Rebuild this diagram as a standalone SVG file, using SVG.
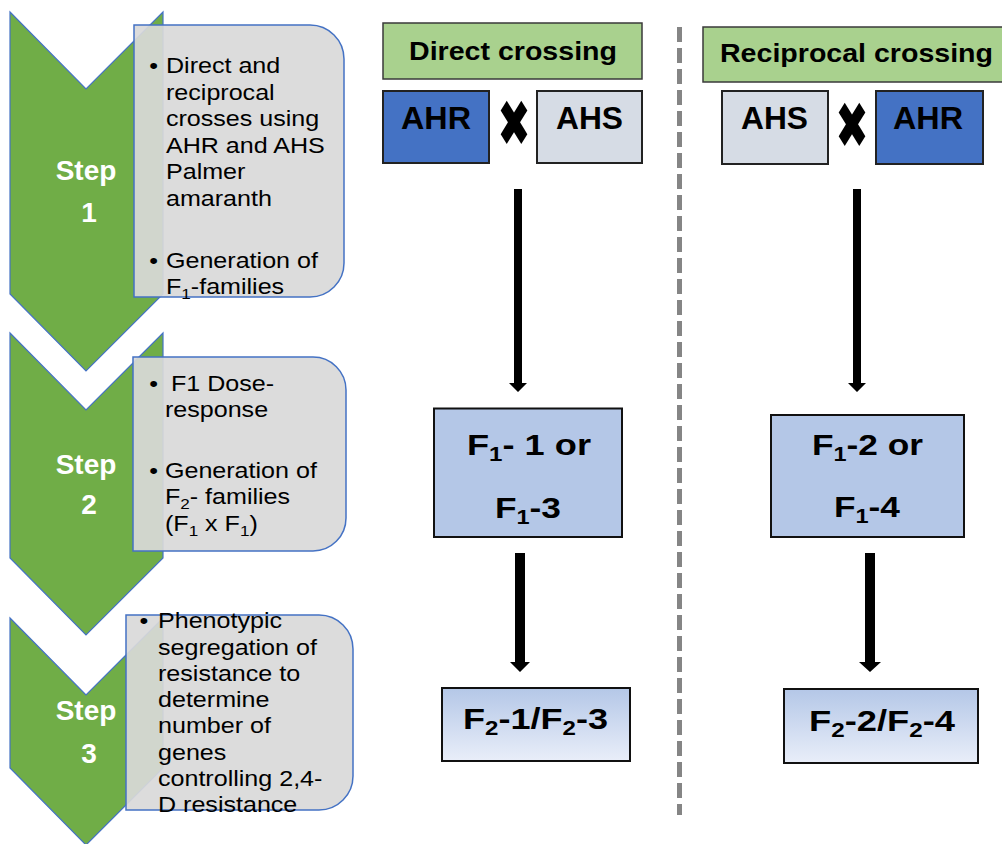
<svg xmlns="http://www.w3.org/2000/svg" width="1002" height="844" viewBox="0 0 1002 844">
<defs>
<linearGradient id="f2grad" x1="0" y1="0" x2="0" y2="1">
<stop offset="0" stop-color="#b4c7e7"/>
<stop offset="1" stop-color="#e9eef9"/>
</linearGradient>
</defs>
<style>
.chev{fill:#70ad47;stroke:#4472c4;stroke-width:1.2}
.note{fill:#d9d9d9;fill-opacity:0.92;stroke:#4472c4;stroke-width:1.5}
.step{font-family:"Liberation Sans",Arial,sans-serif;font-weight:bold;font-size:28px;fill:#ffffff;text-anchor:middle}
.body{font-family:"Liberation Sans",Arial,sans-serif;font-size:22px;fill:#000000}
.hdr{fill:#a9d18e;stroke:#3a3a3a;stroke-width:1.5}
.ahr{fill:#4472c4;stroke:#222222;stroke-width:2}
.ahs{fill:#d6dce5;stroke:#222222;stroke-width:2}
.f1{fill:#b4c7e7;stroke:#111111;stroke-width:2}
.f2{fill:url(#f2grad);stroke:#111111;stroke-width:2}
.lbl{font-family:"Liberation Sans",Arial,sans-serif;font-weight:bold;fill:#000000}
.cross{font-family:"DejaVu Sans",sans-serif;font-size:50px;fill:#000000;text-anchor:middle}
.arrow{fill:#000000}
.divider{stroke:#858585;stroke-width:5;stroke-dasharray:15 6;fill:none}
</style>

<g id="step1">
<polygon class="chev" points="10,12 86,89 163,12 163,294 86,371 10,294"/>
<text class="step" x="86" y="180">Step</text>
<text class="step" x="89" y="222">1</text>
</g>
<g id="note1">
<path class="note" d="M134,25 H310 A34,34 0 0 1 344,59 V263 A34,34 0 0 1 310,297 H134 Z"/>
<g transform="scale(1.14,1)">
<text class="body" x="131" y="73.5">•</text>
<text class="body" x="145.6" y="73.5">Direct and</text>
<text class="body" x="145.6" y="100">reciprocal</text>
<text class="body" x="145.6" y="126.5">crosses using</text>
<text class="body" x="145.6" y="153">AHR and AHS</text>
<text class="body" x="145.6" y="179.5">Palmer</text>
<text class="body" x="145.6" y="206">amaranth</text>
<text class="body" x="131" y="268">•</text>
<text class="body" x="145.6" y="268">Generation of</text>
<text class="body" x="145.6" y="294">F<tspan font-size="15" dy="5">1</tspan><tspan dy="-5">-families</tspan></text>
</g>
</g>

<g id="step2">
<polygon class="chev" points="10,333 86,410 163,333 163,558 86,635 10,558"/>
<text class="step" x="86" y="474">Step</text>
<text class="step" x="89" y="514">2</text>
</g>
<g id="note2">
<path class="note" d="M133,357 H313 A33,33 0 0 1 346,390 V518 A33,33 0 0 1 313,551 H133 Z"/>
<g transform="scale(1.14,1)">
<text class="body" x="131" y="391.5">•</text>
<text class="body" x="150" y="391.5">F1 Dose-</text>
<text class="body" x="144.7" y="417.5">response</text>
<text class="body" x="131" y="478">•</text>
<text class="body" x="144.7" y="478">Generation of</text>
<text class="body" x="144.7" y="504.5">F<tspan font-size="15" dy="5">2</tspan><tspan dy="-5">- families</tspan></text>
<text class="body" x="144.7" y="531">(F<tspan font-size="15" dy="5">1</tspan><tspan dy="-5"> x F</tspan><tspan font-size="15" dy="5">1</tspan><tspan dy="-5">)</tspan></text>
</g>
</g>

<g id="step3">
<polygon class="chev" points="10,618 86,695 163,618 163,768 86,845 10,768"/>
<text class="step" x="86" y="720">Step</text>
<text class="step" x="89" y="763">3</text>
</g>
<g id="note3">
<path class="note" d="M126,615 H319 A34,34 0 0 1 353,649 V776 A34,34 0 0 1 319,810 H126 Z"/>
<g transform="scale(1.14,1)">
<text class="body" x="122.4" y="628.5">•</text>
<text class="body" x="138.6" y="628.5">Phenotypic</text>
<text class="body" x="138.6" y="654.7">segregation of</text>
<text class="body" x="138.6" y="681">resistance to</text>
<text class="body" x="138.6" y="707">determine</text>
<text class="body" x="138.6" y="733.5">number of</text>
<text class="body" x="138.6" y="759.7">genes</text>
<text class="body" x="138.6" y="786">controlling 2,4-</text>
<text class="body" x="138.6" y="812">D resistance</text>
</g>
</g>

<g id="divider">
<line class="divider" x1="679.5" y1="27" x2="679.5" y2="815"/>
</g>

<g id="header-direct">
<rect class="hdr" x="383" y="23" width="259" height="56"/>
<text class="lbl" x="409" y="60" font-size="26" textLength="208" lengthAdjust="spacingAndGlyphs">Direct crossing</text>
</g>
<g id="header-reciprocal">
<rect class="hdr" x="703" y="27" width="305" height="55"/>
<text class="lbl" x="720" y="62" font-size="26" textLength="273" lengthAdjust="spacingAndGlyphs">Reciprocal crossing</text>
</g>

<g id="ahr-direct">
<rect class="ahr" x="383" y="91" width="106" height="72"/>
<text class="lbl" x="401" y="129" font-size="32" textLength="70" lengthAdjust="spacingAndGlyphs">AHR</text>
</g>
<g id="cross-direct">
<text class="cross" transform="translate(514,146) scale(0.8,1.3)" x="0" y="0">✖</text>
</g>
<g id="ahs-direct">
<rect class="ahs" x="537" y="91" width="105" height="72"/>
<text class="lbl" x="556" y="129" font-size="32" textLength="67" lengthAdjust="spacingAndGlyphs">AHS</text>
</g>

<g id="ahs-reciprocal">
<rect class="ahs" x="722" y="91" width="106" height="73"/>
<text class="lbl" x="741" y="129" font-size="32" textLength="67" lengthAdjust="spacingAndGlyphs">AHS</text>
</g>
<g id="cross-reciprocal">
<text class="cross" transform="translate(852,148) scale(0.8,1.3)" x="0" y="0">✖</text>
</g>
<g id="ahr-reciprocal">
<rect class="ahr" x="876" y="91" width="107" height="73"/>
<text class="lbl" x="893" y="129" font-size="32" textLength="70" lengthAdjust="spacingAndGlyphs">AHR</text>
</g>

<g id="f1-direct">
<rect class="f1" x="434" y="408.5" width="188" height="128.5"/>
<text class="lbl" x="467" y="455" font-size="30" textLength="124" lengthAdjust="spacingAndGlyphs">F<tspan font-size="20" dy="6">1</tspan><tspan dy="-6">- 1 or</tspan></text>
<text class="lbl" x="495" y="518" font-size="30" textLength="66" lengthAdjust="spacingAndGlyphs">F<tspan font-size="20" dy="6">1</tspan><tspan dy="-6">-3</tspan></text>
</g>
<g id="f1-reciprocal">
<rect class="f1" x="771" y="415" width="193" height="122"/>
<text class="lbl" x="812" y="455" font-size="30" textLength="111" lengthAdjust="spacingAndGlyphs">F<tspan font-size="20" dy="6">1</tspan><tspan dy="-6">-2 or</tspan></text>
<text class="lbl" x="834" y="517" font-size="30" textLength="66" lengthAdjust="spacingAndGlyphs">F<tspan font-size="20" dy="6">1</tspan><tspan dy="-6">-4</tspan></text>
</g>

<g id="f2-direct">
<rect class="f2" x="442" y="688" width="188" height="73"/>
<text class="lbl" x="463" y="729" font-size="30" textLength="145" lengthAdjust="spacingAndGlyphs">F<tspan font-size="20" dy="6">2</tspan><tspan dy="-6">-1/F</tspan><tspan font-size="20" dy="6">2</tspan><tspan dy="-6">-3</tspan></text>
</g>
<g id="f2-reciprocal">
<rect class="f2" x="784" y="689" width="194" height="74"/>
<text class="lbl" x="809" y="731" font-size="30" textLength="146" lengthAdjust="spacingAndGlyphs">F<tspan font-size="20" dy="6">2</tspan><tspan dy="-6">-2/F</tspan><tspan font-size="20" dy="6">2</tspan><tspan dy="-6">-4</tspan></text>
</g>

<g id="connectors">
<path class="arrow" d="M514,189 H522 V383 H527 L518,392 L509,383 H514 Z"/>
<path class="arrow" d="M853,189 H861 V383 H866 L857,392 L848,383 H853 Z"/>
<path class="arrow" d="M515,553 H525 V662 H530 L520,672 L510,662 H515 Z"/>
<path class="arrow" d="M865,553 H875 V662 H881 L870,672 L859,662 H865 Z"/>
</g>
</svg>
